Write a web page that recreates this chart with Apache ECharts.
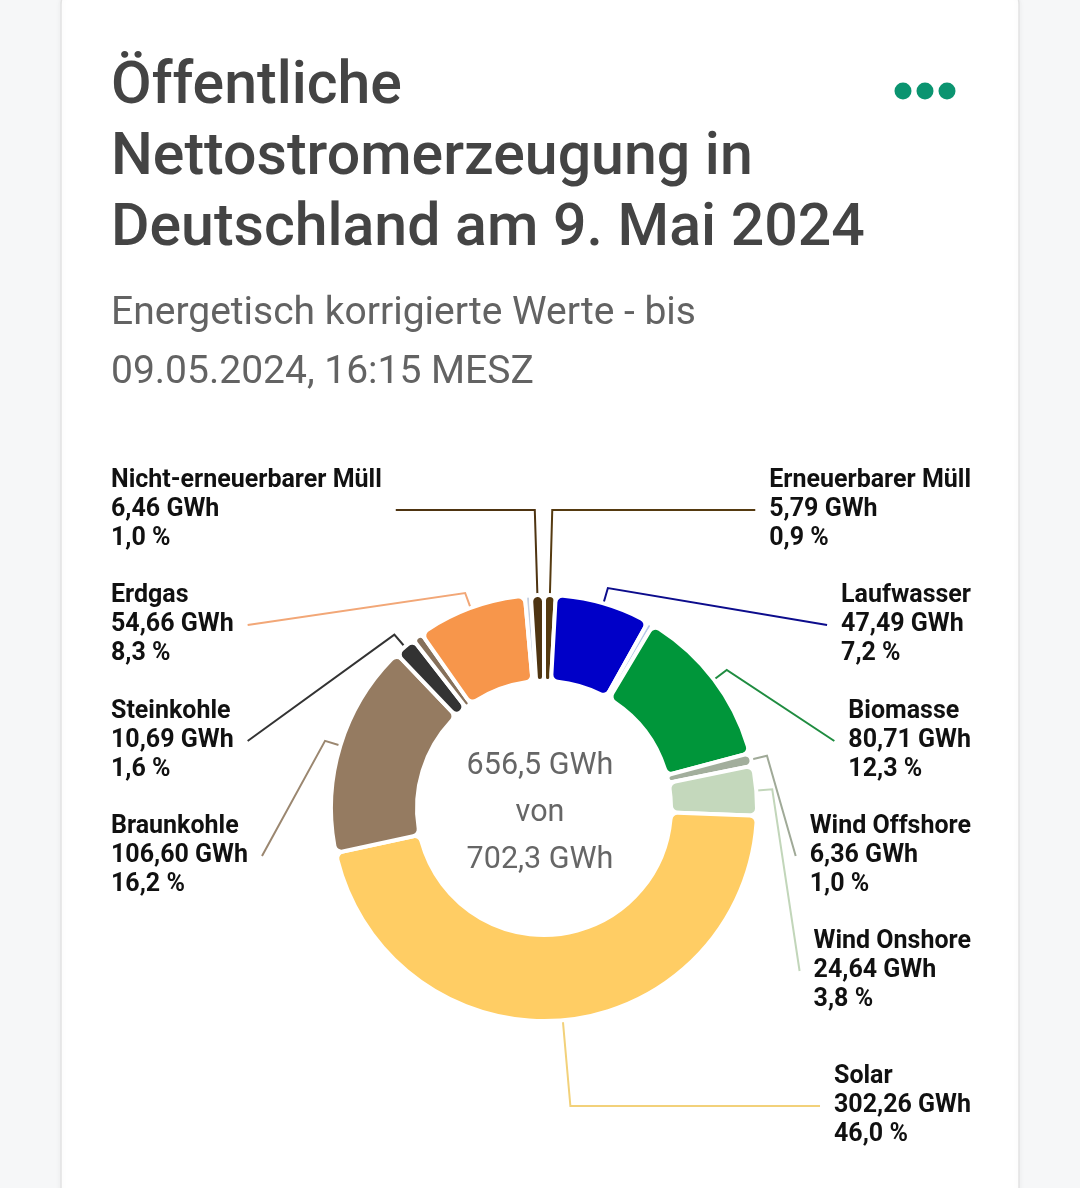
<!DOCTYPE html>
<html><head><meta charset="utf-8">
<script src="https://cdn.jsdelivr.net/npm/echarts@6/dist/echarts.min.js"></script>
<style>html,body{margin:0;padding:0;background:#f6f7f8;} #c{width:1080px;height:1188px;}</style>
</head><body><div id="c"></div>
<script>
// ---- data ----
const categories = ['Erneuerbarer Müll','Laufwasser','Speicherwasser','Biomasse','Wind Offshore','Wind Onshore','Solar','Braunkohle','Steinkohle','Öl','Erdgas','Geothermie','Nicht-erneuerbarer Müll'];
const valuesGWh = [5.79, 47.49, 2.90, 80.71, 6.36, 24.64, 302.26, 106.60, 10.69, 5.00, 54.66, 2.94, 6.46];
const showLabel = [true, true, false, true, true, true, true, true, true, false, true, false, true];
const sliceColors = ['#553a10','#0000c8','#b4c8ea','#00963a','#a2ae9c','#c4d8bc','#ffcd64','#957b61','#333333','#86705a','#f7964b','#c6d0e0','#4e3411'];
const lineColors = ['#553a10','#0c0c8c','#b4c8ea','#1f8c40','#a0aa98','#c2d6ba','#f2d17a','#9b8770','#333333','#86705a','#f2a777','#c6d0e0','#4e3411'];
const totalShownGWh = 656.5;
const totalAllGWh = 702.3;
const titleLines = ['Öffentliche', 'Nettostromerzeugung in', 'Deutschland am 9. Mai 2024'];
const subtitleLines = ['Energetisch korrigierte Werte - bis', '09.05.2024, 16:15 MESZ'];

// ---- layout ----
const CX = 544, CY = 808, R_IN = 127, R_OUT = 213;
const LEFT_X = 111, RIGHT_EDGE = 971;
const leftSlots = [510, 625, 741, 856];
const rightSlots = [510, 625, 741, 856, 971, 1106];

const fmt = (v, d) => v.toFixed(d).replace('.', ',');
const sum = valuesGWh.reduce((a, b) => a + b, 0);

// mid angles (clockwise from top) derived from the data
const mids = [];
let acc = 0;
valuesGWh.forEach(v => { mids.push((acc + v / 2) / sum * Math.PI * 2); acc += v; });
const slotOf = {};
const leftIdx = [], rightIdx = [];
valuesGWh.forEach((v, i) => {
  if (!showLabel[i]) return;
  (Math.sin(mids[i]) < 0 ? leftIdx : rightIdx).push(i);
});
const byY = (a, b) => (-Math.cos(mids[a])) - (-Math.cos(mids[b]));
leftIdx.sort(byY).forEach((i, k) => slotOf[i] = leftSlots[k]);
rightIdx.sort(byY).forEach((i, k) => slotOf[i] = rightSlots[k]);

const chart = echarts.init(document.getElementById('c'), null, {renderer: 'canvas'});

const option = {
  animation: false,
  title: [
    {
      text: titleLines.join('\n'), left: 111, top: 53, padding: 0,
      textStyle: {fontFamily: 'Roboto', fontSize: 59, fontWeight: 500, lineHeight: 71, color: '#444444'}
    },
    {
      text: subtitleLines.join('\n'), left: 111, top: 285, padding: 0,
      textStyle: {fontFamily: 'Roboto', fontSize: 39, fontWeight: 400, lineHeight: 59, color: '#636363'}
    }
  ],
  graphic: [
    {type: 'rect', z: -10, shape: {x: 61, y: -12, width: 958, height: 1260, r: 16},
     style: {fill: '#ffffff', stroke: '#e2e2e2', lineWidth: 1.5, shadowBlur: 6, shadowColor: 'rgba(0,0,0,0.06)'}},
    {type: 'circle', shape: {cx: 903, cy: 91, r: 8.5}, style: {fill: '#0b9470'}},
    {type: 'circle', shape: {cx: 925, cy: 91, r: 8.5}, style: {fill: '#0b9470'}},
    {type: 'circle', shape: {cx: 947, cy: 91, r: 8.5}, style: {fill: '#0b9470'}},
    {type: 'text', x: 540, y: 813,
     style: {text: fmt(totalShownGWh, 1) + ' GWh\nvon\n' + fmt(totalAllGWh, 1) + ' GWh',
             align: 'center', verticalAlign: 'middle', fontFamily: 'Roboto', fontSize: 30.5,
             lineHeight: 47, fill: '#666666'}}
  ],
  series: [{
    type: 'pie',
    center: [CX, CY],
    radius: [R_IN, R_OUT],
    startAngle: 90,
    clockwise: true,
    avoidLabelOverlap: false,
    emphasis: {disabled: true},
    itemStyle: {borderColor: '#ffffff', borderWidth: 4, borderRadius: 7},
    label: {
      position: 'outside', color: '#111111', fontFamily: 'Roboto', fontWeight: 'bold',
      fontSize: 25, lineHeight: 29, align: 'left',
      formatter: p => p.name + '\n' + fmt(p.value, 2) + ' GWh\n' + fmt(p.value / sum * 100, 1) + ' %'
    },
    labelLine: {length: 16, length2: 10, lineStyle: {width: 2}},
    labelLayout: function (params) {
      const i = params.dataIndex;
      if (!showLabel[i]) return {};
      const dx = Math.sin(mids[i]), dy = -Math.cos(mids[i]);
      const isLeft = dx < 0;
      const slotY = slotOf[i];
      const w = params.labelRect.width;
      const labelX = isLeft ? LEFT_X : RIGHT_EDGE - w;
      const endX = isLeft ? labelX + w + 14 : labelX - 14;
      const r0 = R_OUT + 1;
      const p0 = [CX + dx * r0, CY + dy * r0];
      let bend;
      if (Math.abs(dx) < 0.15) {
        const t = (slotY - p0[1]) / dy;
        bend = [p0[0] + dx * t, slotY];
      } else {
        bend = [p0[0] + dx * 15, p0[1] + dy * 15];
      }
      return {x: labelX, y: slotY, align: 'left', verticalAlign: 'middle',
              labelLinePoints: [p0, bend, [endX, slotY]]};
    },
    data: categories.map((n, i) => ({
      name: n, value: valuesGWh[i],
      itemStyle: {color: sliceColors[i]},
      label: {show: showLabel[i]},
      labelLine: {show: showLabel[i], lineStyle: {color: lineColors[i]}}
    }))
  }]
};
chart.setOption(option);
</script>
</body></html>
